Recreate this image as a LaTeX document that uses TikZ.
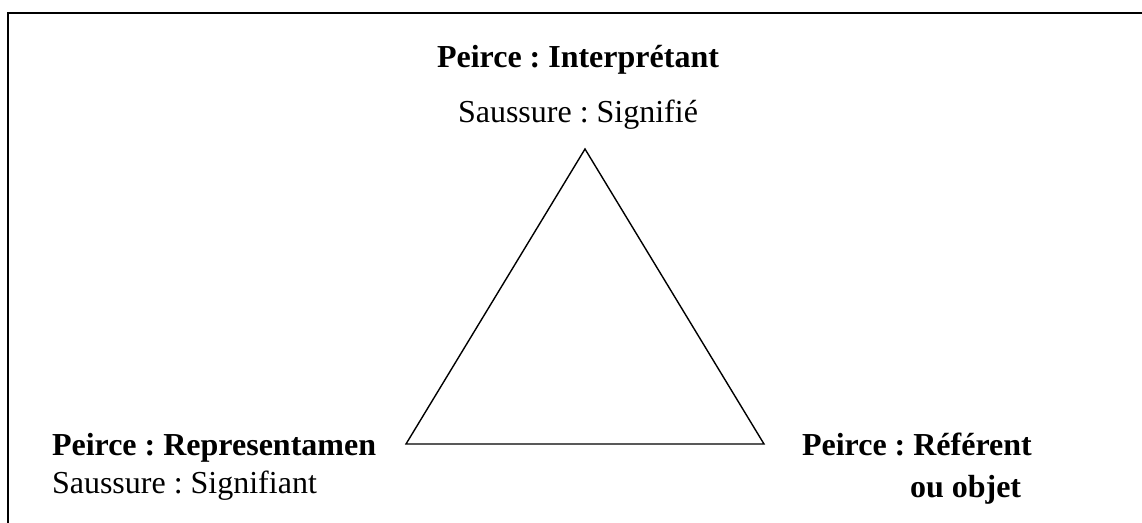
\documentclass[tikz,border=0pt]{standalone}
\usepackage{fontspec}
\setmainfont{Liberation Serif}
\begin{document}
\frenchspacing
\begin{tikzpicture}[x=1pt,y=-1pt,
  lbl/.style={inner sep=0pt,outer sep=0pt,anchor=base west,font=\fontsize{32}{38}\selectfont\frenchspacing},
  blbl/.style={lbl,font=\fontsize{32}{38}\selectfont\frenchspacing\bfseries}]
\useasboundingbox (0,0) rectangle (1142,522);
\coordinate (fb) at (8,523);
\coordinate (ftl) at (8,13);
\coordinate (ftr) at (1143,13);
\draw[line width=2pt] (fb) -- (ftl) -- (ftr);
\coordinate (A) at (585,149);
\coordinate (B) at (406,444);
\coordinate (C) at (764,444);
\draw[line width=1.4pt,line join=miter] (A) -- (B) -- (C) -- cycle;
\node[blbl] (pi) at (437,67) {Peirce : Interprétant};
\node[lbl] (ss) at (458,122) {Saussure : Signifié};
\node[blbl] (pr) at (52,455) {Peirce : Representamen};
\node[lbl] (sg) at (52,493) {Saussure : Signifiant};
\node[blbl] (pf) at (802,455) {Peirce : Référent};
\node[blbl] (ob) at (910,497) {ou objet};
\end{tikzpicture}
\end{document}
